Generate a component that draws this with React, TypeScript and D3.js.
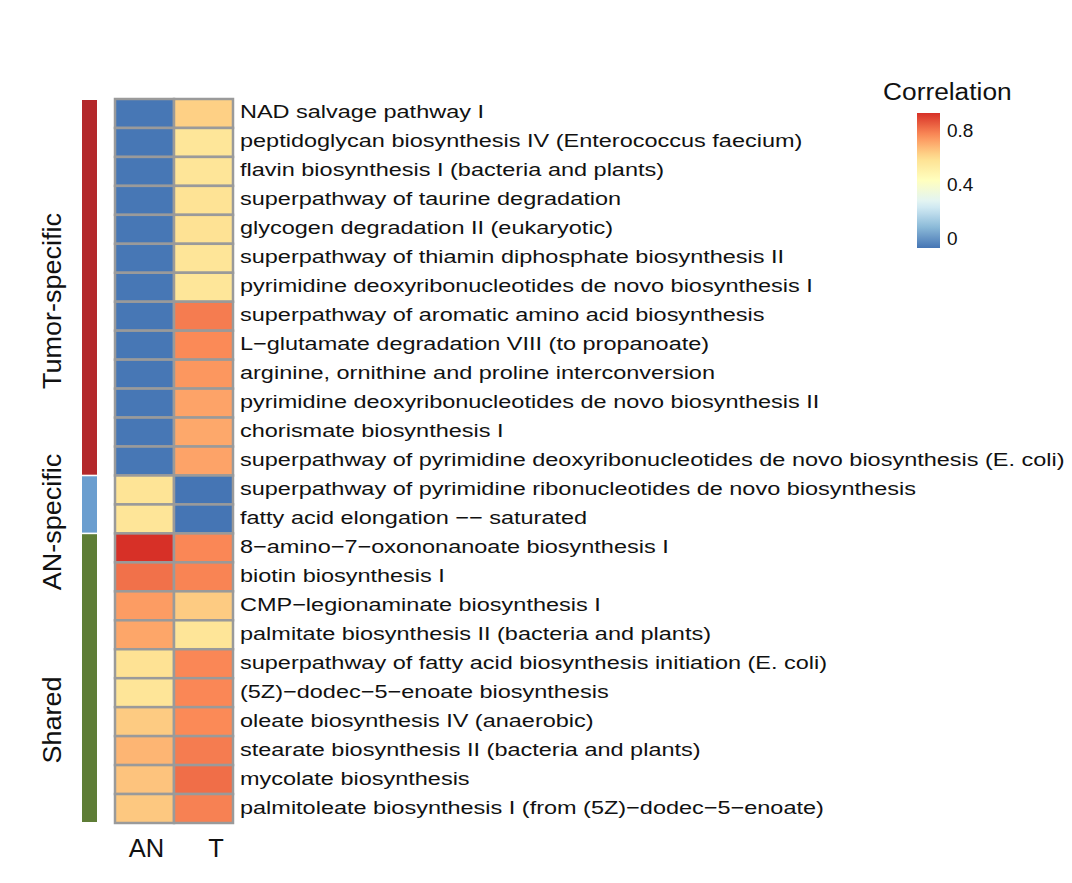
import React from "react";
import * as d3 from "d3";

const pathways = [
  "NAD salvage pathway I",
  "peptidoglycan biosynthesis IV (Enterococcus faecium)",
  "flavin biosynthesis I (bacteria and plants)",
  "superpathway of taurine degradation",
  "glycogen degradation II (eukaryotic)",
  "superpathway of thiamin diphosphate biosynthesis II",
  "pyrimidine deoxyribonucleotides de novo biosynthesis I",
  "superpathway of aromatic amino acid biosynthesis",
  "L\u2212glutamate degradation VIII (to propanoate)",
  "arginine, ornithine and proline interconversion",
  "pyrimidine deoxyribonucleotides de novo biosynthesis II",
  "chorismate biosynthesis I",
  "superpathway of pyrimidine deoxyribonucleotides de novo biosynthesis (E. coli)",
  "superpathway of pyrimidine ribonucleotides de novo biosynthesis",
  "fatty acid elongation \u2212\u2212 saturated",
  "8\u2212amino\u22127\u2212oxononanoate biosynthesis I",
  "biotin biosynthesis I",
  "CMP\u2212legionaminate biosynthesis I",
  "palmitate biosynthesis II (bacteria and plants)",
  "superpathway of fatty acid biosynthesis initiation (E. coli)",
  "(5Z)\u2212dodec\u22125\u2212enoate biosynthesis",
  "oleate biosynthesis IV (anaerobic)",
  "stearate biosynthesis II (bacteria and plants)",
  "mycolate biosynthesis",
  "palmitoleate biosynthesis I (from (5Z)\u2212dodec\u22125\u2212enoate)",
];

const rowGroup = [
  "Tumor-specific", "Tumor-specific", "Tumor-specific", "Tumor-specific", "Tumor-specific",
  "Tumor-specific", "Tumor-specific", "Tumor-specific", "Tumor-specific", "Tumor-specific",
  "Tumor-specific", "Tumor-specific", "Tumor-specific",
  "AN-specific", "AN-specific",
  "Shared", "Shared", "Shared", "Shared", "Shared", "Shared", "Shared", "Shared", "Shared", "Shared",
];

const columns = ["AN", "T"];

const anValues = [
  -0.07, -0.07, -0.07, -0.07, -0.07, -0.07, -0.07, -0.07, -0.07, -0.07, -0.07, -0.07, -0.07,
  0.57, 0.565,
  0.926, 0.81, 0.73, 0.71, 0.58, 0.565, 0.635, 0.68, 0.65, 0.64,
];
const tValues = [
  0.625, 0.56, 0.565, 0.575, 0.58, 0.565, 0.56, 0.79, 0.765, 0.74, 0.715, 0.705, 0.715,
  -0.074, -0.074,
  0.77, 0.775, 0.635, 0.565, 0.77, 0.77, 0.765, 0.79, 0.815, 0.78,
];

const groupNames = ["Tumor-specific", "AN-specific", "Shared"];
const groupColors = ["#B3282B", "#6B9ECF", "#5E7D36"];
const groupLabelCenters = [301, 522, 720];

const legendTicks = [0, 0.4, 0.8];
const paletteColors = ["#4575B4", "#91BFDB", "#E0F3F8", "#FFFFBF", "#FEE090", "#FC8D59", "#D73027"];

export default function App() {
  const width = 1072;
  const height = 883;
  const all = [...anValues, ...tValues];
  const vmin = d3.min(all) as number;
  const vmax = d3.max(all) as number;
  const color = d3
    .scaleLinear<string>()
    .domain(paletteColors.map((_, i) => vmin + (i * (vmax - vmin)) / (paletteColors.length - 1)))
    .range(paletteColors)
    .interpolate(d3.interpolateRgb);

  const y = d3.scaleBand<string>().domain(pathways).range([99, 823]);
  const x = d3.scaleBand<string>().domain(columns).range([115, 233]);

  const legendY = d3.scaleLinear().domain([vmin, vmax]).range([248, 113]);
  const gradStops = d3.range(0, 1.0001, 0.05);

  const cellStroke = "#9a9a9a";
  const font = "'Liberation Sans', Arial, Helvetica, sans-serif";

  const groupExtents = groupNames.map((g) => {
    const idx = pathways.filter((_, i) => rowGroup[i] === g);
    const top = y(idx[0]) as number;
    const bottom = (y(idx[idx.length - 1]) as number) + y.bandwidth();
    return { g, top, bottom };
  });

  return (
    <svg width={width} height={height} style={{ display: "block", position: "absolute", left: 0, top: 0, background: "#fff" }} fontFamily={font}>
      <rect x={0} y={0} width={width} height={height} fill="#fff" />
      {groupExtents.map((ge, i) => (
        <rect key={ge.g} x={82} y={ge.top + (i === 0 ? 1 : 0.8)} width={15} height={ge.bottom - ge.top - (i === 0 ? 1.8 : i === 2 ? 1.8 : 1.6)} fill={groupColors[i]} />
      ))}
      {groupNames.map((g, i) => (
        <text key={g} transform={`translate(61,${groupLabelCenters[i]}) rotate(-90) scale(1.08,1)`} textAnchor="middle" fontSize={25} fill="#111">
          {g}
        </text>
      ))}
      {pathways.map((p, i) => (
        <g key={p}>
          <rect x={x("AN")} y={y(p)} width={x.bandwidth()} height={y.bandwidth()} fill={color(anValues[i])} stroke={cellStroke} strokeWidth={2.5} />
          <rect x={x("T")} y={y(p)} width={x.bandwidth()} height={y.bandwidth()} fill={color(tValues[i])} stroke={cellStroke} strokeWidth={2.5} />
        </g>
      ))}
      {pathways.map((p) => (
        <text key={p} transform={`translate(240,${(y(p) as number) + y.bandwidth() / 2 + 5}) scale(1.27,1)`} fontSize={18.5} fill="#111">
          {p}
        </text>
      ))}
      <text x={146.5} y={857} textAnchor="middle" fontSize={25.5} fill="#111">AN</text>
      <text x={216} y={857} textAnchor="middle" fontSize={25.5} fill="#111">T</text>
      <defs>
        <linearGradient id="legGrad" x1="0" y1="1" x2="0" y2="0">
          {gradStops.map((s) => (
            <stop key={s} offset={`${s * 100}%`} stopColor={color(vmin + s * (vmax - vmin))} />
          ))}
        </linearGradient>
      </defs>
      <text transform="translate(883,100) scale(1.12,1)" fontSize={23.5} fill="#111">Correlation</text>
      <rect x={917} y={113} width={23} height={135} fill="url(#legGrad)" />
      {legendTicks.map((t) => (
        <text key={t} x={947} y={legendY(t) + 7} fontSize={19} fill="#111">
          {String(t)}
        </text>
      ))}
    </svg>
  );
}
